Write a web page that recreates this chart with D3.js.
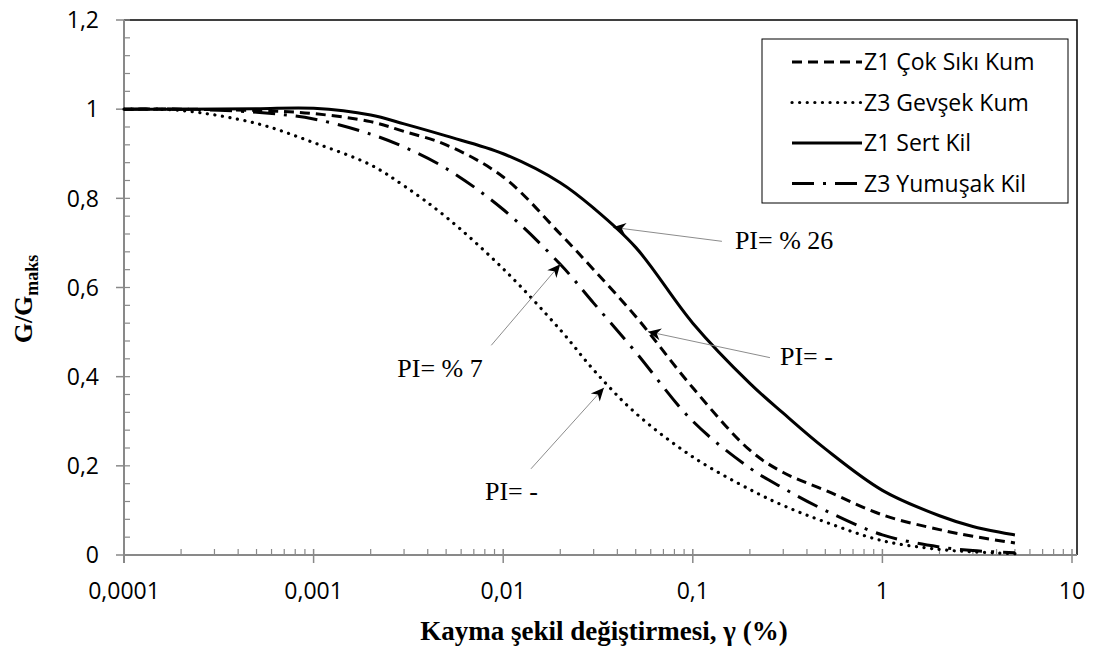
<!DOCTYPE html>
<html><head><meta charset="utf-8">
<script src="https://cdn.jsdelivr.net/npm/d3@7"></script>
<style>html,body{margin:0;padding:0;background:#fff;}</style>
</head><body>
<svg id="chart" width="1093" height="648"></svg>
<script>
// ---- data ----
const strain = [0.0001, 0.0002, 0.0005, 0.001, 0.002, 0.003, 0.005, 0.01, 0.02, 0.03, 0.05, 0.1, 0.2, 0.3, 0.5, 1, 2, 3, 5];
const z1CokSikiKum = [1, 1, 0.997, 0.99, 0.972, 0.95, 0.92, 0.848, 0.72, 0.64, 0.535, 0.375, 0.235, 0.185, 0.145, 0.09, 0.057, 0.042, 0.027];
const z3GevsekKum  = [1, 0.997, 0.968, 0.925, 0.875, 0.828, 0.758, 0.642, 0.505, 0.415, 0.318, 0.22, 0.147, 0.111, 0.074, 0.032, 0.0125, 0.007, 0.003];
const z1SertKil    = [1, 1, 1.001, 1.002, 0.987, 0.967, 0.94, 0.90, 0.835, 0.778, 0.69, 0.52, 0.385, 0.318, 0.238, 0.145, 0.088, 0.064, 0.045];
const z3YumusakKil = [1, 1, 0.993, 0.978, 0.944, 0.915, 0.867, 0.775, 0.652, 0.565, 0.455, 0.30, 0.195, 0.15, 0.10, 0.045, 0.018, 0.01, 0.005];
const seriesNames = ["Z1 Çok Sıkı Kum", "Z3 Gevşek Kum", "Z1 Sert Kil", "Z3 Yumuşak Kil"];
const xTickValues = [0.0001, 0.001, 0.01, 0.1, 1, 10];
const xTickLabels = ["0,0001", "0,001", "0,01", "0,1", "1", "10"];
const yTickValues = [0, 0.2, 0.4, 0.6, 0.8, 1, 1.2];
const yTickLabels = ["0", "0,2", "0,4", "0,6", "0,8", "1", "1,2"];
const annotations = [
  {text: "PI= % 26", x: 0.0379, y: 0.735, dx: 109, dy: 14, tx: 122, ty: 22},
  {text: "PI= -",    x: 0.058,  y: 0.501, dx: 122, dy: 26, tx: 132, ty: 33},
  {text: "PI= % 7",  x: 0.0200, y: 0.652, dx: -69, dy: 81, tx: -163, ty: 113},
  {text: "PI= -",    x: 0.034,  y: 0.375, dx: -73, dy: 81, tx: -119, ty: 112}
];

// ---- layout ----
const svg = d3.select("#chart");
const L = 124, R = 1072, T = 20, B = 555, frameR = 1077;
const x = d3.scaleLog().domain([0.0001, 10]).range([L, R]);
const y = d3.scaleLinear().domain([0, 1.2]).range([B, T]);
const tickFont = "'Open Sans', sans-serif";
const serif = "'Liberation Serif', 'Times New Roman', serif";
const axisColor = "#898989";

// frame (top & right)
svg.append("path").attr("d", `M${L},${T}H${frameR}V${B}`)
  .attr("fill", "none").attr("stroke", "#000").attr("stroke-width", 1.5);

// y axis
const yMinor = d3.range(0, 1.2001, 0.04);
svg.append("g").selectAll("line").data(yMinor).join("line")
  .attr("x1", L).attr("x2", L + 6).attr("y1", d => y(d)).attr("y2", d => y(d))
  .attr("stroke", axisColor).attr("stroke-width", 1.2);
svg.append("g").selectAll("line").data(yTickValues).join("line")
  .attr("x1", L - 8).attr("x2", L).attr("y1", d => y(d)).attr("y2", d => y(d))
  .attr("stroke", axisColor).attr("stroke-width", 1.5);
svg.append("line").attr("x1", L).attr("x2", L).attr("y1", T).attr("y2", B + 8)
  .attr("stroke", axisColor).attr("stroke-width", 2);
svg.append("g").selectAll("text").data(yTickValues).join("text")
  .attr("x", 99).attr("y", d => y(d)).attr("dy", "0.36em")
  .attr("text-anchor", "end").attr("font-family", tickFont).attr("font-size", 23)
  .attr("fill", "#000").text((d, i) => yTickLabels[i]);

// x axis
const xMinor = [];
for (let e = -4; e < 1; e++) for (let k = 2; k <= 9; k++) xMinor.push(k * Math.pow(10, e));
svg.append("g").selectAll("line").data(xMinor).join("line")
  .attr("x1", d => x(d)).attr("x2", d => x(d)).attr("y1", B - 6).attr("y2", B)
  .attr("stroke", axisColor).attr("stroke-width", 1.2);
svg.append("g").selectAll("line").data(xTickValues).join("line")
  .attr("x1", d => x(d)).attr("x2", d => x(d)).attr("y1", B - 6).attr("y2", B + 8)
  .attr("stroke", axisColor).attr("stroke-width", 1.5);
svg.append("line").attr("x1", L).attr("x2", frameR).attr("y1", B).attr("y2", B)
  .attr("stroke", axisColor).attr("stroke-width", 2);
svg.append("g").selectAll("text").data(xTickValues).join("text")
  .attr("x", d => x(d)).attr("y", 599)
  .attr("text-anchor", "middle").attr("font-family", tickFont).attr("font-size", 23)
  .attr("fill", "#000").text((d, i) => xTickLabels[i]);

// axis titles
svg.append("text").attr("x", 604).attr("y", 640)
  .attr("text-anchor", "middle").attr("font-family", serif).attr("font-weight", "bold")
  .attr("font-size", 27).text("Kayma şekil değiştirmesi, γ (%)");
const yt = svg.append("text").attr("transform", `translate(32,299) rotate(-90)`)
  .attr("text-anchor", "middle").attr("font-family", serif).attr("font-weight", "bold")
  .attr("font-size", 26);
yt.append("tspan").text("G/G");
yt.append("tspan").attr("font-size", 18).attr("dy", 6).text("maks");

// series
const styles = [
  {data: z1CokSikiKum, dash: "10,6", cap: "butt"},
  {data: z3GevsekKum, dash: "0.1,7.5", cap: "round"},
  {data: z1SertKil, dash: null, cap: "butt"},
  {data: z3YumusakKil, dash: "22,9,3,9", cap: "butt"}
];
const line = d3.line().x(d => x(d[0])).y(d => y(d[1])).curve(d3.curveCatmullRom.alpha(0.5));
styles.forEach(s => {
  svg.append("path").datum(strain.map((v, i) => [v, s.data[i]]))
    .attr("d", line).attr("fill", "none").attr("stroke", "#000")
    .attr("stroke-width", s.cap === "round" ? 3.2 : 3)
    .attr("stroke-linecap", s.cap)
    .attr("stroke-dasharray", s.dash);
});

// legend
const lg = svg.append("g");
lg.append("rect").attr("x", 762).attr("y", 39).attr("width", 306).attr("height", 164)
  .attr("fill", "#fff").attr("stroke", "#000").attr("stroke-width", 1);
styles.forEach((s, i) => {
  const cy = 62 + i * 40.5;
  lg.append("line").attr("x1", 792).attr("x2", 862).attr("y1", cy).attr("y2", cy)
    .attr("stroke", "#000").attr("stroke-width", s.cap === "round" ? 3.2 : 3)
    .attr("stroke-linecap", s.cap).attr("stroke-dasharray", s.dash);
  lg.append("text").attr("x", 864).attr("y", cy).attr("dy", "0.36em")
    .attr("font-family", tickFont).attr("font-size", 23).text(seriesNames[i]);
});

// annotations
const defs = svg.append("defs");
defs.append("marker").attr("id", "arr").attr("markerUnits", "userSpaceOnUse")
  .attr("viewBox", "-14 -7 16 14").attr("refX", 0).attr("refY", 0)
  .attr("markerWidth", 16).attr("markerHeight", 14).attr("orient", "auto")
  .append("path").attr("d", "M0,0 L-13,-6 L-9,0 L-13,6 Z").attr("fill", "#000");
annotations.forEach(a => {
  const px = x(a.x), py = y(a.y);
  svg.append("line").attr("x1", px + a.dx).attr("y1", py + a.dy).attr("x2", px).attr("y2", py)
    .attr("stroke", "#8c8c8c").attr("stroke-width", 1).attr("marker-end", "url(#arr)");
  svg.append("text").attr("x", px + a.tx).attr("y", py + a.ty)
    .attr("font-family", serif).attr("font-size", 26).text(a.text);
});
</script>
</body></html>
